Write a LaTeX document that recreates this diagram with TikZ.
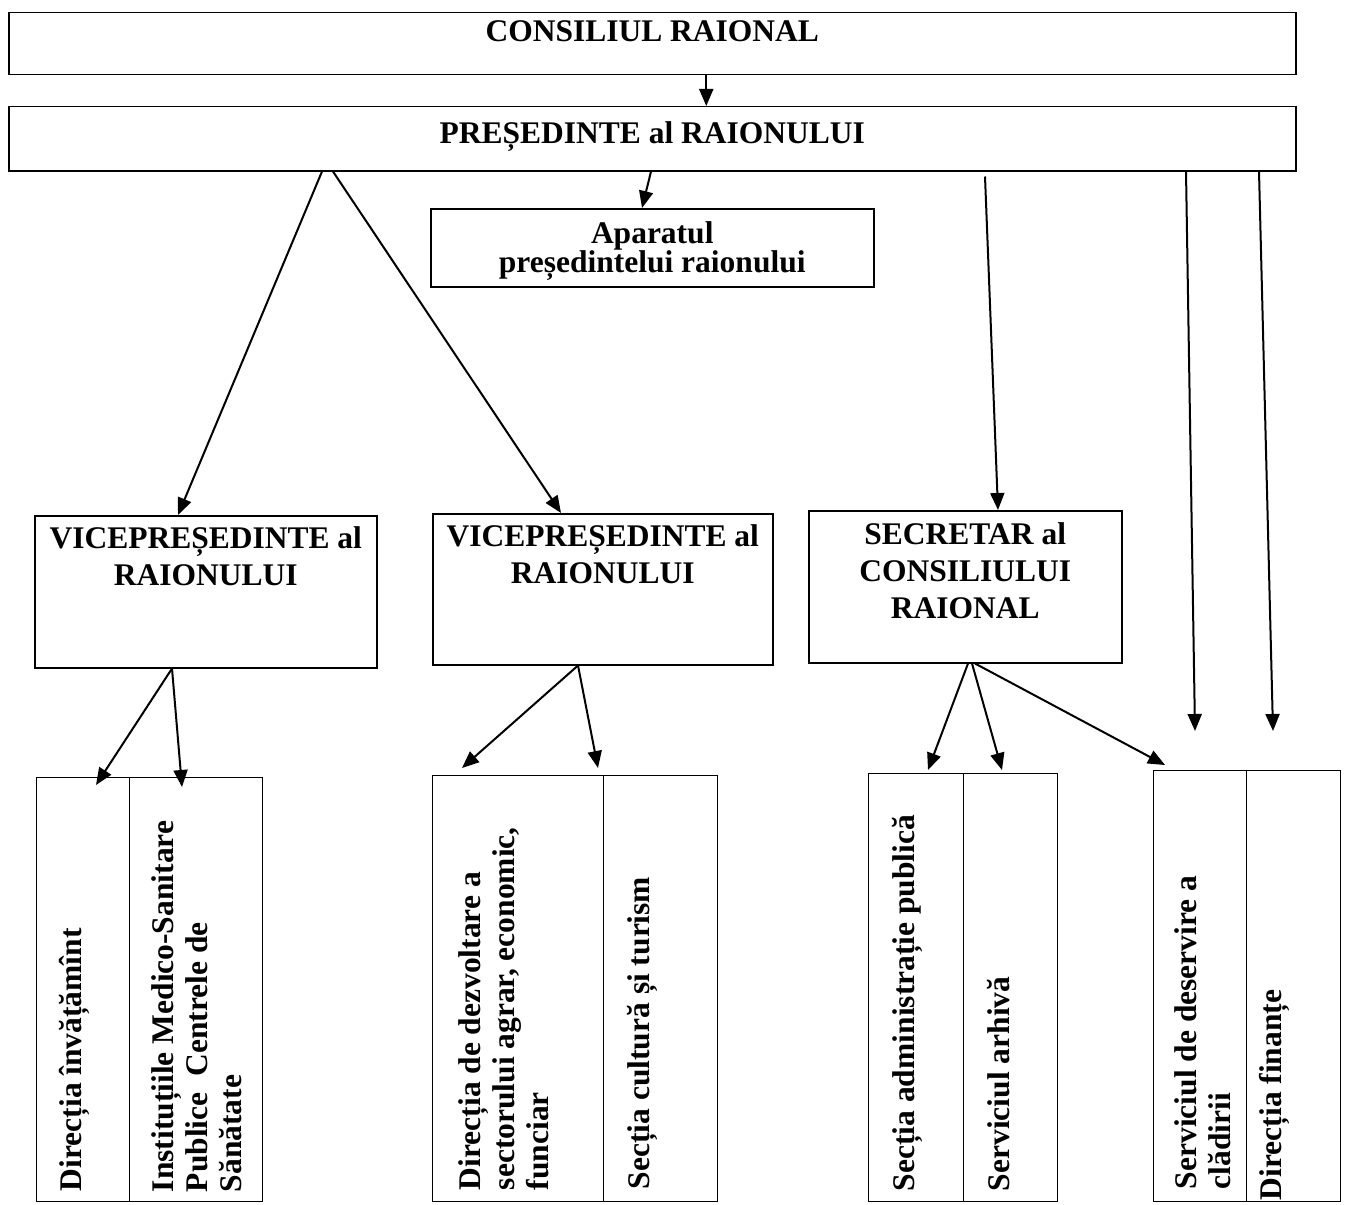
\documentclass[tikz,border=0pt]{standalone}
\usepackage{fontspec}
\setmainfont{Liberation Serif}
\usetikzlibrary{positioning,arrows.meta}

\tikzset{
  box/.style={draw, line width=1.5pt, inner sep=0pt, anchor=north west},
  col/.style={draw, line width=1.3pt, inner sep=0pt, anchor=north west},
  head/.style={font=\bfseries\fontsize{31.5}{37}\selectfont, align=center, inner sep=0pt, anchor=north},
  vtext/.style={font=\bfseries\fontsize{31.5}{34}\selectfont, align=left, inner sep=0pt, rotate=90, anchor=north west},
  link/.style={line width=2pt, -{Triangle[length=17pt,width=14pt]}},
}

\begin{document}
\begin{tikzpicture}[x=1pt, y=-1pt]
    \useasboundingbox (0,0) rectangle (1348,1204);

    % Council
    \node[box, minimum width=1287pt, minimum height=62pt] (cons) at (8,12) {};
    \node[head, below=8pt of cons.north] {CONSILIUL RAIONAL};

    % President
    \node[box, minimum width=1287pt, minimum height=64pt] (pres) at (8,106) {};
    \node[head, below=15pt of pres.north] {PREȘEDINTE al RAIONULUI};

    % Apparatus
    \node[box, minimum width=443pt, minimum height=78pt] (apar) at (430,208) {};
    \node[head, font=\bfseries\fontsize{31.5}{25}\selectfont, below=13pt of apar.north] {Aparatul\\președintelui raionului};

    % Vice-presidents
    \node[box, minimum width=342pt, minimum height=152pt] (vice1) at (34,515) {};
    \node[head, below=11pt of vice1.north] {VICEPREȘEDINTE al\\RAIONULUI};
    \node[box, minimum width=340pt, minimum height=151pt] (vice2) at (432,513) {};
    \node[head, below=11pt of vice2.north] {VICEPREȘEDINTE al\\RAIONULUI};

    % Secretary
    \node[box, minimum width=313pt, minimum height=152pt] (secr) at (808,510) {};
    \node[head, below=12pt of secr.north] {SECRETAR al\\CONSILIULUI\\RAIONAL};

    % Departments
    \node[col, minimum width=93pt, minimum height=424pt] (invat) at (36,777) {};
    \node[col, minimum width=133pt, minimum height=424pt] (medsan) at (129,777) {};
    \node[col, minimum width=171pt, minimum height=426pt] (dezv) at (432,775) {};
    \node[col, minimum width=114pt, minimum height=426pt] (cult) at (603,775) {};
    \node[col, minimum width=95pt, minimum height=428pt] (admin) at (868,773) {};
    \node[col, minimum width=94pt, minimum height=428pt] (arhiva) at (963,773) {};
    \node[col, minimum width=93pt, minimum height=431pt] (deserv) at (1153,770) {};
    \node[col, minimum width=94pt, minimum height=431pt] (finante) at (1246,770) {};

    \node[vtext] at ([shift={(23pt,11pt)}]invat.south west) {Direcția învățămînt};
    \node[vtext] at ([shift={(22pt,10pt)}]medsan.south west) {Instituțiile Medico-Sanitare\\Publice\ \ Centrele de\\Sănătate};
    \node[vtext] at ([shift={(26pt,12pt)}]dezv.south west) {Direcția de dezvoltare a\\sectorului agrar, economic,\\funciar};
    \node[vtext] at ([shift={(24pt,13pt)}]cult.south west) {Secția cultură și turism};
    \node[vtext] at ([shift={(24pt,11pt)}]admin.south west) {Secția administrație publică};
    \node[vtext] at ([shift={(24pt,11pt)}]arhiva.south west) {Serviciul arhivă};
    \node[vtext] at ([shift={(21pt,13pt)}]deserv.south west) {Serviciul de deservire a\\clădirii};
    \node[vtext] at ([shift={(13pt,2pt)}]finante.south west) {Direcția finanțe};

    % Free ends of the two long arrows
    \coordinate (deservTip) at (1195,731);
    \coordinate (finTip) at (1273,731);

    % Arrows from the top
    \draw[link] ([xshift=54pt]cons.south) -- ([xshift=54pt]pres.north);
    \draw[link] ([xshift=643pt]pres.south west) -- ([xshift=212pt]apar.north west);
    \draw[link] ([xshift=314pt]pres.south west) -- ([xshift=144pt]vice1.north west);
    \draw[link] ([xshift=325pt]pres.south west) -- ([xshift=129pt]vice2.north west);
    \draw[link] ([shift={(977pt,-5pt)}]pres.south west) -- ([xshift=190pt]secr.north west);
    \draw[link] ([xshift=1178pt]pres.south west) -- (deservTip);
    \draw[link] ([xshift=1251pt]pres.south west) -- (finTip);

    % Arrows to the departments
    \draw[link] ([xshift=138pt]vice1.south west) -- ([shift={(60pt,-8pt)}]invat.north west);
    \draw[link] ([xshift=138pt]vice1.south west) -- ([shift={(53pt,-10pt)}]medsan.north west);
    \draw[link] ([xshift=146pt]vice2.south west) -- ([shift={(30pt,7pt)}]dezv.north west);
    \draw[link] ([xshift=146pt]vice2.south west) -- ([shift={(-5pt,7pt)}]cult.north west);
    \draw[link] ([xshift=160pt]secr.south west) -- ([shift={(60pt,3pt)}]admin.north west);
    \draw[link] ([xshift=164pt]secr.south west) -- ([shift={(39pt,3pt)}]arhiva.north west);
    \draw[link] ([xshift=167pt]secr.south west) -- ([shift={(12pt,5pt)}]deserv.north west);
\end{tikzpicture}
\end{document}
